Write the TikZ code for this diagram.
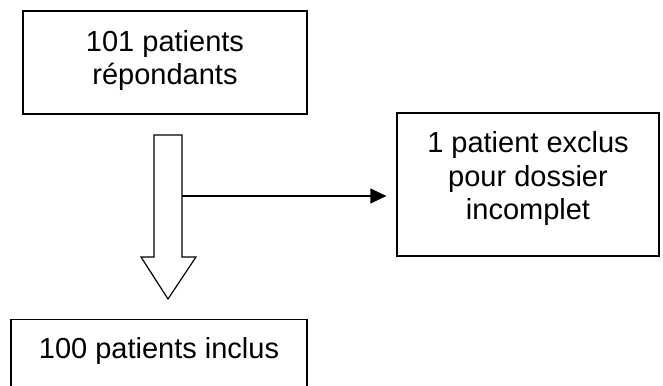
\documentclass[tikz,border=0pt]{standalone}
\usepackage{fontspec}
\setmainfont{Liberation Sans}
\usetikzlibrary{arrows.meta}
\begin{document}
\begin{tikzpicture}[x=1pt,y=-1pt,
  box/.style={draw, line width=1.2pt, inner sep=0pt},
  lbl/.style={inner sep=0pt, align=center, anchor=north, font=\fontsize{29}{33.5}\selectfont}]
\useasboundingbox (0,0) rectangle (663,385);
\node[box, minimum width=284, minimum height=103] (rep) at (165,62.5) {};
\node[lbl] (reptxt) at (165,30.2) {101 patients\\répondants};
\node[box, minimum width=262, minimum height=143] (excl) at (528,184.5) {};
\node[lbl] (excltxt) at (528,131.7) {1 patient exclus\\pour dossier\\incomplet};
\node[box, minimum width=296, minimum height=90, anchor=north] (incl) at (159,319) {};
\node[lbl] (incltxt) at (159,337.5) {100 patients inclus};
% block arrow
\coordinate (sR) at (182,196);
\draw[line width=1.2pt, line join=miter] (154,135) -- (182,135) -- (182,257) -- (196,257) -- (168,299) -- (141,257) -- (154,257) -- cycle;
\draw[line width=1.2pt, -{Triangle[length=16pt,width=15pt]}, shorten >=10pt] (sR) -- (excl.west |- sR);
\end{tikzpicture}
\end{document}
